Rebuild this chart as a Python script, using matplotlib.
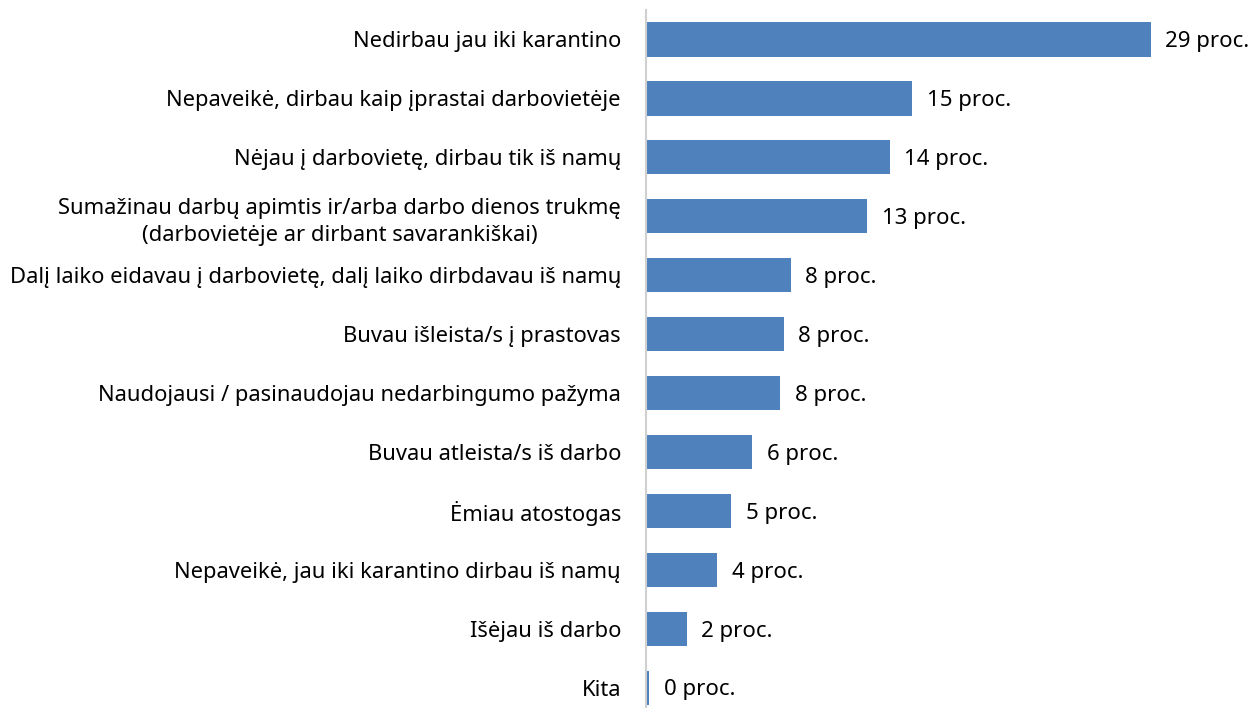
import matplotlib
matplotlib.use("Agg")
import matplotlib.pyplot as plt

categories = [
    "Nedirbau jau iki karantino",
    "Nepaveikė, dirbau kaip įprastai darbovietėje",
    "Nėjau į darbovietę, dirbau tik iš namų",
    "Sumažinau darbų apimtis ir/arba darbo dienos trukmę\n(darbovietėje ar dirbant savarankiškai)",
    "Dalį laiko eidavau į darbovietę, dalį laiko dirbdavau iš namų",
    "Buvau išleista/s į prastovas",
    "Naudojausi / pasinaudojau nedarbingumo pažyma",
    "Buvau atleista/s iš darbo",
    "Ėmiau atostogas",
    "Nepaveikė, jau iki karantino dirbau iš namų",
    "Išėjau iš darbo",
    "Kita",
]
values = [29.0, 15.3, 14.0, 12.7, 8.3, 7.9, 7.7, 6.1, 4.9, 4.1, 2.35, 0.2]
value_labels = ["29 proc.", "15 proc.", "14 proc.", "13 proc.", "8 proc.", "8 proc.",
                "8 proc.", "6 proc.", "5 proc.", "4 proc.", "2 proc.", "0 proc."]

plt.rcParams['font.family'] = ['Noto Sans', 'DejaVu Sans']
W, H = 1257, 708
fig = plt.figure(figsize=(W / 100, H / 100), dpi=100)
ax_left = 646 / W
ax = fig.add_axes([ax_left, 0.0, 1 - ax_left, (H - 10) / H])

px_per_unit = 17.41
ax.set_xlim(0, (W - 646) / px_per_unit)
spacing = 58.9
ax.set_ylim((H - 40) / spacing, -0.5)

y = list(range(len(categories)))
ax.barh(y, values, height=0.58, color="#4F81BD", edgecolor="none")

for yi, v, lab in zip(y, values, value_labels):
    ax.annotate(lab, xy=(v, yi), xytext=(10.5, -1.5), textcoords="offset points",
                ha="left", va="center", fontsize=16, color="black")

ax.set_yticks(y)
ax.set_yticklabels(categories, fontsize=15.8, multialignment="center", linespacing=1.4)
ax.tick_params(axis="y", length=0, pad=18)
ax.set_xticks([])
for s in ["top", "right", "bottom"]:
    ax.spines[s].set_visible(False)
ax.spines["left"].set_color("#D0D0D0")
ax.spines["left"].set_linewidth(1.5)

fig.savefig("out.png", dpi=100)
